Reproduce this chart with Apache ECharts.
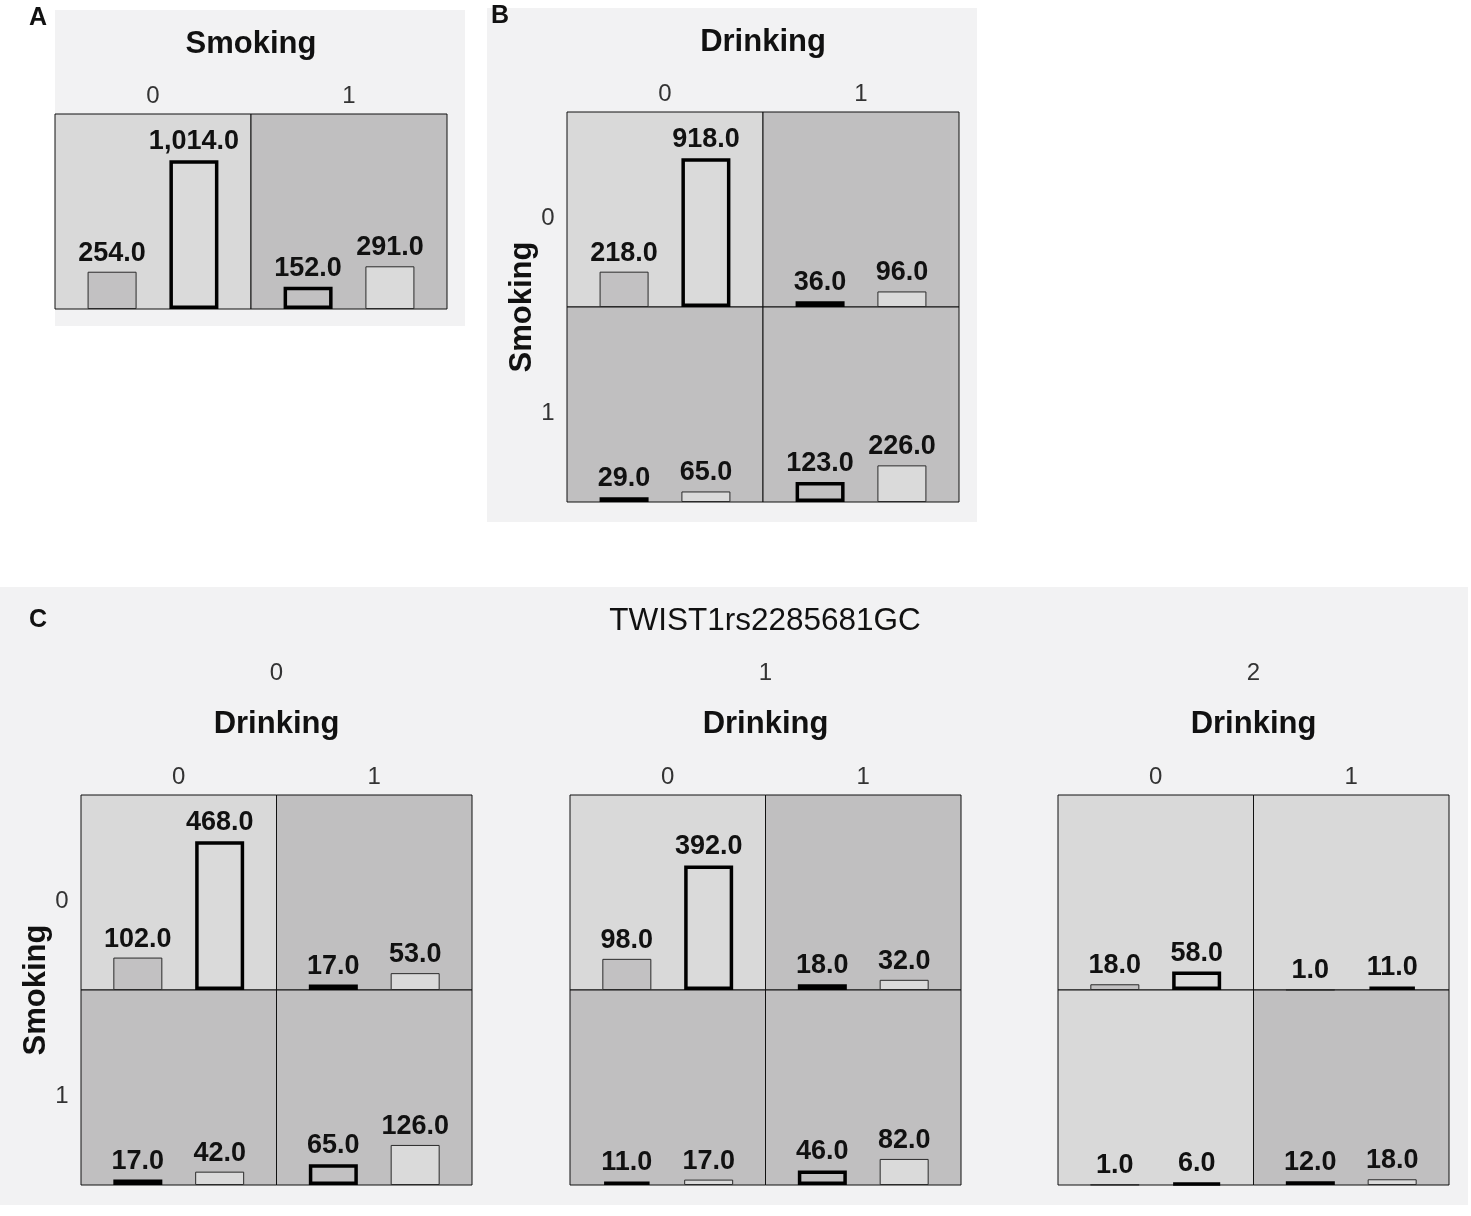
<!DOCTYPE html>
<html>
<head>
<meta charset="utf-8">
<script src="https://cdn.jsdelivr.net/npm/echarts@6/dist/echarts.min.js"></script>
<style>
  html, body { margin: 0; padding: 0; background: #fff; }
  #chart { width: 1471px; height: 1216px; }
</style>
</head>
<body>
<div id="chart"></div>
<script>
// category levels
var drinkLevels = ['0', '1'];
var smokeLevels = ['0', '1'];
var twistLevels = ['0', '1', '2'];

// counts per cell, cells ordered [smoke0/drink0, smoke0/drink1, smoke1/drink0, smoke1/drink1]
// each cell holds the two bars [left, right]
var aCounts = [[254, 1014], [152, 291]];          // A: by Smoking only
var bCounts = [[218, 918], [36, 96], [29, 65], [123, 226]];
var cCounts0 = [[102, 468], [17, 53], [17, 42], [65, 126]];
var cCounts1 = [[98, 392], [18, 32], [11, 17], [46, 82]];
var cCounts2 = [[18, 58], [1, 11], [1, 6], [12, 18]];

// cell shading as in the original (light / dark)
var aShade = ['light', 'dark'];
var bShade = ['light', 'dark', 'dark', 'dark'];
var cShade0 = ['light', 'dark', 'dark', 'dark'];
var cShade1 = ['light', 'dark', 'dark', 'dark'];
var cShade2 = ['light', 'light', 'light', 'dark'];

var FONT = '"Liberation Sans", Arial, sans-serif';
var CELL_LIGHT = '#d9d9d9', CELL_DARK = '#c0bfc0';
var BAR_DARK = '#c2c1c2', BAR_LIGHT = '#dadada';
var PANEL_BG = '#f2f2f3';
var TOP_RATIO = 0.763;   // tallest bar fills this share of a cell

var grids = [], xAxes = [], yAxes = [], series = [], graphics = [];

function fmt(p) {
  return p.value.toLocaleString('en-US', { minimumFractionDigits: 1, maximumFractionDigits: 1 });
}

function maxOf(cells) {
  var m = 0;
  cells.forEach(function(c) { c.forEach(function(v) { if (v > m) m = v; }); });
  return m;
}

function addText(str, x, y, size, bold, rotate, color) {
  graphics.push({
    type: 'text', x: x, y: y, rotation: rotate ? Math.PI / 2 : 0, z: 100,
    style: {
      text: str, fontSize: size, fontWeight: bold ? 'bold' : 'normal', fontFamily: FONT,
      fill: color || '#111', align: 'center', verticalAlign: 'middle'
    }
  });
}

function addPanelBg(x, y, w, h) {
  graphics.push({ type: 'rect', z: -10, shape: { x: x, y: y, width: w, height: h }, style: { fill: PANEL_BG } });
}

function addCell(x, y, w, h, counts, shade, axisMax, colLabel, topRow) {
  var idx = grids.length;
  grids.push({
    left: x, top: y, width: w, height: h, show: true,
    backgroundColor: shade === 'light' ? CELL_LIGHT : CELL_DARK,
    borderColor: '#111', borderWidth: 1
  });
  xAxes.push({
    type: 'category', gridIndex: idx, data: [colLabel], position: 'top',
    axisLine: { show: false }, axisTick: { show: false }, splitLine: { show: false },
    axisLabel: { show: topRow, margin: 6, fontSize: 24, color: '#333', fontFamily: FONT }
  });
  yAxes.push({ type: 'value', gridIndex: idx, min: 0, max: axisMax, show: false });
  var thick = shade === 'light' ? 1 : 0;
  counts.forEach(function(v, k) {
    series.push({
      type: 'bar', xAxisIndex: idx, yAxisIndex: idx, data: [v],
      barWidth: 49, barGap: '67%', silent: true,
      itemStyle: {
        color: k === 0 ? BAR_DARK : BAR_LIGHT,
        borderColor: k === thick ? '#000' : '#2a2a2a',
        borderWidth: k === thick ? 3.5 : 1
      },
      label: {
        show: true, position: 'top', distance: 5, formatter: fmt,
        fontSize: 27, fontWeight: 'bold', color: '#111', fontFamily: FONT
      }
    });
  });
}

// 2x2 block of cells (Smoking rows x Drinking columns)
function addBlock(x0, y0, cw, ch, counts, shades, axisMax) {
  for (var r = 0; r < 2; r++) {
    for (var c = 0; c < 2; c++) {
      var i = r * 2 + c;
      addCell(x0 + c * cw, y0 + r * ch, cw, ch, counts[i], shades[i], axisMax, drinkLevels[c], r === 0);
    }
  }
}

// ---- Panel A ----
(function() {
  var x0 = 55, y0 = 114, cw = 196, ch = 195;
  addPanelBg(55, 10, 410, 316);
  var m = maxOf(aCounts) / TOP_RATIO;
  aCounts.forEach(function(cnt, c) {
    addCell(x0 + c * cw, y0, cw, ch, cnt, aShade[c], m, smokeLevels[c], true);
  });
  addText('A', 38, 18, 25, true);
  addText('Smoking', x0 + cw, y0 - 70, 31, true);
})();

// ---- Panel B ----
(function() {
  var x0 = 567, y0 = 112, cw = 196, ch = 195;
  addPanelBg(487, 8, 490, 514);
  addBlock(x0, y0, cw, ch, bCounts, bShade, maxOf(bCounts) / TOP_RATIO);
  addText('B', 500, 16, 25, true);
  addText('Drinking', x0 + cw, y0 - 70, 31, true);
  smokeLevels.forEach(function(s, r) { addText(s, x0 - 19, y0 + r * ch + ch / 2 + 9, 24, false, false, '#333'); });
  addText('Smoking', x0 - 45, y0 + ch, 31, true, true);
})();

// ---- Panel C ----
(function() {
  var groupX = [81, 570, 1058], y0 = 795, cw = 195.5, ch = 195;
  var blocks = [cCounts0, cCounts1, cCounts2];
  var shades = [cShade0, cShade1, cShade2];
  addPanelBg(0, 587, 1468, 618);
  var m = Math.max(maxOf(cCounts0), maxOf(cCounts1), maxOf(cCounts2)) / TOP_RATIO;
  addText('C', 38, 620, 25, true);
  addText('TWIST1rs2285681GC', 765, 621, 31.5, false);
  blocks.forEach(function(cnt, g) {
    var x0 = groupX[g];
    addBlock(x0, y0, cw, ch, cnt, shades[g], m);
    addText(twistLevels[g], x0 + cw, y0 - 122, 24, false, false, '#333');
    addText('Drinking', x0 + cw, y0 - 71, 31, true);
  });
  smokeLevels.forEach(function(s, r) { addText(s, groupX[0] - 19, y0 + r * ch + ch / 2 + 9, 24, false, false, '#333'); });
  addText('Smoking', groupX[0] - 45, y0 + ch, 31, true, true);
})();

var chart = echarts.init(document.getElementById('chart'));
chart.setOption({
  animation: false,
  backgroundColor: '#fff',
  grid: grids,
  xAxis: xAxes,
  yAxis: yAxes,
  series: series,
  graphic: { elements: graphics }
});
</script>
</body>
</html>
